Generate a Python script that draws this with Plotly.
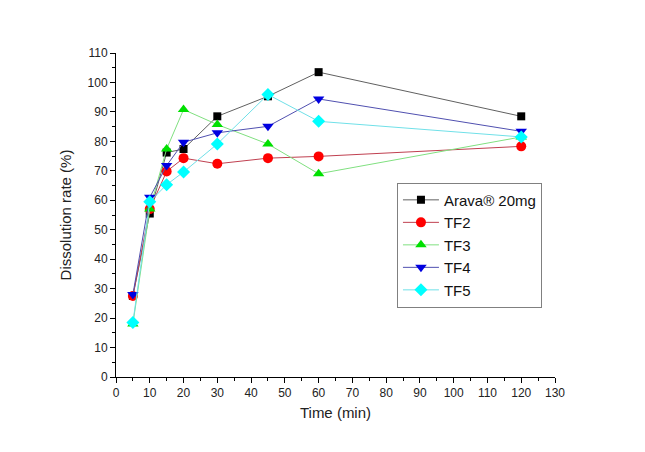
import plotly.graph_objects as go

time = [5, 10, 15, 20, 30, 45, 60, 120]
series_names = ["Arava® 20mg", "TF2", "TF3", "TF4", "TF5"]
arava = [27.5, 55.5, 76.2, 77.4, 88.5, 95.3, 103.5, 88.5]
tf2 = [27.5, 57.0, 69.8, 74.3, 72.4, 74.3, 74.9, 78.3]
tf3 = [18.0, 57.0, 77.4, 90.8, 85.7, 79.1, 69.0, 81.5]
tf4 = [28.0, 61.0, 71.8, 79.7, 82.9, 85.1, 94.4, 83.4]
tf5 = [18.5, 59.5, 65.3, 69.6, 79.1, 95.9, 86.8, 81.5]

values = [arava, tf2, tf3, tf4, tf5]
marker_colors = ["#000000", "#ff0000", "#00e000", "#0000e0", "#00ffff"]
line_colors = ["#606060", "#c04050", "#80e080", "#5050b0", "#70e0e8"]
symbols = ["square", "circle", "triangle-up", "triangle-down", "diamond"]
sizes = [8, 10, 10, 10, 10]

fig = go.Figure()
for name, vals, mc, lc, sym, sz in zip(series_names, values, marker_colors, line_colors, symbols, sizes):
    fig.add_trace(go.Scatter(
        x=time, y=vals, name=name, mode="lines+markers",
        line=dict(color=lc, width=1),
        marker=dict(symbol=sym, color=mc, size=sz, line=dict(width=0)),
    ))

axis_common = dict(
    showline=True, linecolor="black", linewidth=1,
    ticks="outside", ticklen=5, tickwidth=1, tickcolor="black",
    showgrid=False, zeroline=False, automargin=False,
    tickfont=dict(family="Liberation Sans, Arial", size=12, color="#222"),
)

fig.update_layout(
    width=645, height=452,
    margin=dict(l=108, r=98, t=45, b=83),
    paper_bgcolor="white", plot_bgcolor="white",
    font=dict(family="Liberation Sans, Arial", color="#222"),
    xaxis=dict(range=[0, 130], dtick=10, tick0=0,
               minor=dict(dtick=5, ticks="outside", ticklen=3, tickcolor="black"),
               title=dict(text="Time (min)", font=dict(size=15), standoff=8),
               **axis_common),
    yaxis=dict(range=[0, 110], dtick=10, tick0=0,
               minor=dict(dtick=5, ticks="outside", ticklen=3, tickcolor="black"),
               title=dict(text="Dissolution rate (%)", font=dict(size=15), standoff=12),
               **axis_common),
    legend=dict(
        x=0.64, y=0.60, xanchor="left", yanchor="top",
        bordercolor="#808080", borderwidth=1, bgcolor="white",
        font=dict(family="Liberation Sans, Arial", size=15, color="#111"),
        tracegroupgap=0, itemwidth=36,
    ),
    showlegend=True,
)

fig.write_html("out.html")
